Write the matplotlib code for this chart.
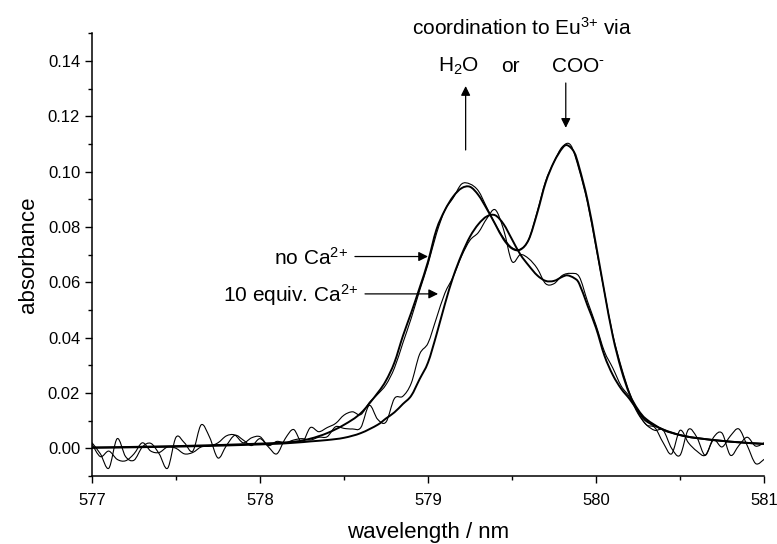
import numpy as np
import matplotlib.pyplot as plt
from matplotlib.path import Path
from matplotlib.patches import PathPatch
from matplotlib.ticker import MultipleLocator, FormatStrFormatter

plt.rcParams['font.family'] = ['Liberation Sans', 'DejaVu Sans']
plt.rcParams['mathtext.fontset'] = 'custom'
plt.rcParams['mathtext.rm'] = 'Liberation Sans'
plt.rcParams['mathtext.it'] = 'Liberation Sans'

# smooth fitted curves
fit_x = [577.0, 577.5, 578.0, 578.2, 578.3, 578.4, 578.5, 578.6, 578.7, 578.75,
         578.8, 578.85, 578.9, 578.95, 579.0, 579.05, 579.1, 579.15, 579.2, 579.25,
         579.3, 579.35, 579.4, 579.45, 579.5, 579.55, 579.6, 579.65, 579.7, 579.75,
         579.8, 579.83, 579.87, 579.9, 579.95, 580.0, 580.05, 580.1, 580.15, 580.2,
         580.25, 580.3, 580.4, 580.5, 580.6, 580.8, 581.0]
fit_no_ca = [0.0003, 0.0008, 0.0017, 0.0024, 0.0035, 0.0055, 0.0085, 0.0127, 0.020, 0.0245,
             0.031, 0.0405, 0.049, 0.058, 0.0675, 0.079, 0.086, 0.091, 0.094, 0.0945,
             0.0915, 0.0865, 0.081, 0.0755, 0.0722, 0.0718, 0.0755, 0.085, 0.096, 0.1035,
             0.1085, 0.1095, 0.107, 0.1015, 0.0895, 0.0735, 0.0565, 0.0405, 0.0285, 0.0195,
             0.014, 0.0105, 0.0067, 0.0048, 0.0037, 0.0024, 0.0016]
fit_10eq = [0.0002, 0.0006, 0.0014, 0.002, 0.0025, 0.003, 0.0038, 0.0055, 0.0085, 0.0108,
            0.013, 0.016, 0.019, 0.025, 0.031, 0.041, 0.052, 0.062, 0.070, 0.0765,
            0.081, 0.0838, 0.0842, 0.081, 0.0755, 0.070, 0.066, 0.0625, 0.0605, 0.0605,
            0.062, 0.0625, 0.0615, 0.0595, 0.0515, 0.0435, 0.0335, 0.0265, 0.0215, 0.0178,
            0.0135, 0.0098, 0.0068, 0.0048, 0.0037, 0.0024, 0.0016]

# measured (noisy) spectra, 0.05 nm steps from 577 to 581
wl = np.round(np.arange(577.0, 581.001, 0.05), 2)
abs_no_ca = [0.002, -0.002, -0.0072, 0.0035, -0.003, -0.0043, 0.0005, 0.0018, -0.002, -0.0072,
             0.004, 0.002, -0.001, 0.0085, 0.004, -0.0035, 0.001, 0.0047, 0.003, 0.001,
             0.0035, 0.0005, -0.002, 0.0035, 0.0068, 0.0022, 0.0075, 0.006, 0.0075, 0.009,
             0.012, 0.0132, 0.0122, 0.0165, 0.0195, 0.023, 0.029, 0.038, 0.047, 0.057,
             0.0665, 0.0775, 0.086, 0.0905, 0.0955, 0.0955, 0.093, 0.087, 0.081, 0.076,
             0.0725, 0.072, 0.0755, 0.0855, 0.0965, 0.1035, 0.109, 0.1095, 0.1005, 0.0885,
             0.0725, 0.0565, 0.041, 0.0295, 0.020, 0.013, 0.0085, 0.0075, 0.002, -0.002,
             0.0065, 0.002, -0.001, -0.0025, 0.003, 0.0005, 0.0045, 0.007, 0.001, -0.0055,
             -0.004]
abs_10eq = [0.0015, -0.003, -0.001, -0.004, -0.0045, -0.002, 0.002, -0.001, -0.0015, 0.0005,
            0.0, -0.002, -0.0015, 0.0005, 0.0008, 0.002, 0.0045, 0.0048, 0.002, 0.0038,
            0.0042, 0.001, 0.0025, 0.002, 0.003, 0.0035, 0.003, 0.004, 0.0042, 0.0078,
            0.0072, 0.007, 0.0075, 0.0155, 0.0105, 0.0095, 0.018, 0.0188, 0.0235, 0.034,
            0.038, 0.047, 0.056, 0.062, 0.0695, 0.0752, 0.078, 0.083, 0.0862, 0.079,
            0.0675, 0.070, 0.0685, 0.065, 0.0595, 0.0595, 0.0625, 0.0632, 0.062, 0.053,
            0.0445, 0.035, 0.029, 0.0225, 0.0185, 0.0125, 0.0085, 0.0065, 0.0065, 0.0,
            -0.0025, 0.0068, 0.004, -0.0025, 0.004, 0.0055, -0.0025, 0.001, 0.004, 0.0008,
            0.002]


def smooth_line(ax, xs, ys, lw):
    # draw the points as one Catmull-Rom bezier path, so the wiggles look round
    p = np.column_stack([xs, ys]).astype(float)
    verts = [p[0]]
    codes = [Path.MOVETO]
    for i in range(len(p) - 1):
        p0 = p[i - 1] if i > 0 else p[i]
        p3 = p[i + 2] if i + 2 < len(p) else p[i + 1]
        c1 = p[i] + (p[i + 1] - p0) / 6
        c2 = p[i + 1] - (p3 - p[i]) / 6
        verts += [c1, c2, p[i + 1]]
        codes += [Path.CURVE4] * 3
    ax.add_patch(PathPatch(Path(verts, codes), fill=False, ec='black', lw=lw,
                           capstyle='round', joinstyle='round'))


fig = plt.figure(figsize=(7.77, 5.44), dpi=100)
ax = fig.add_axes([0.1184, 0.125, 0.8649, 0.814])

smooth_line(ax, wl, abs_no_ca, 0.8)
smooth_line(ax, wl, abs_10eq, 0.8)
smooth_line(ax, fit_x, fit_no_ca, 1.4)
smooth_line(ax, fit_x, fit_10eq, 1.4)

ax.set_xlim(577, 581)
ax.set_ylim(-0.01, 0.15)
ax.xaxis.set_major_locator(MultipleLocator(1))
ax.xaxis.set_minor_locator(MultipleLocator(0.5))
ax.yaxis.set_major_locator(MultipleLocator(0.02))
ax.yaxis.set_minor_locator(MultipleLocator(0.01))
ax.yaxis.set_major_formatter(FormatStrFormatter('%.2f'))
ax.spines['top'].set_visible(False)
ax.spines['right'].set_visible(False)
for s in ['left', 'bottom']:
    ax.spines[s].set_linewidth(1.1)
ax.tick_params(which='both', direction='out', width=1.0, labelsize=12)
ax.tick_params(which='major', length=5)
ax.tick_params(which='minor', length=3)
ax.tick_params(axis='x', which='major', pad=7)

ax.set_xlabel('wavelength / nm', fontsize=16, labelpad=10)
ax.set_ylabel('absorbance', fontsize=16, labelpad=6)

arrow = dict(arrowstyle='-|>', mutation_scale=14, lw=0.9, color='black',
             shrinkA=0, shrinkB=0)
ax.text(579.56, 0.1493, 'coordination to Eu$^{3{+}}$ via', fontsize=15, ha='center', va='baseline')
ax.text(579.18, 0.136, 'H$_2$O', fontsize=15, ha='center', va='baseline')
ax.text(579.49, 0.136, 'or', fontsize=15, ha='center', va='baseline')
ax.text(579.89, 0.136, 'COO$^{\\text{-}}$', fontsize=15, ha='center', va='baseline')
ax.annotate('', xy=(579.224, 0.1309), xytext=(579.224, 0.1078), arrowprops=arrow)
ax.annotate('', xy=(579.82, 0.1158), xytext=(579.82, 0.132), arrowprops=arrow)

ax.text(578.524, 0.0663, 'no Ca$^{2{+}}$', fontsize=15, ha='right', va='baseline')
ax.text(578.583, 0.0531, '10 equiv. Ca$^{2{+}}$', fontsize=15, ha='right', va='baseline')
ax.annotate('', xy=(579.0, 0.0693), xytext=(578.565, 0.0693), arrowprops=arrow)
ax.annotate('', xy=(579.06, 0.0558), xytext=(578.625, 0.0558), arrowprops=arrow)

fig.savefig('out.png', dpi=100)
